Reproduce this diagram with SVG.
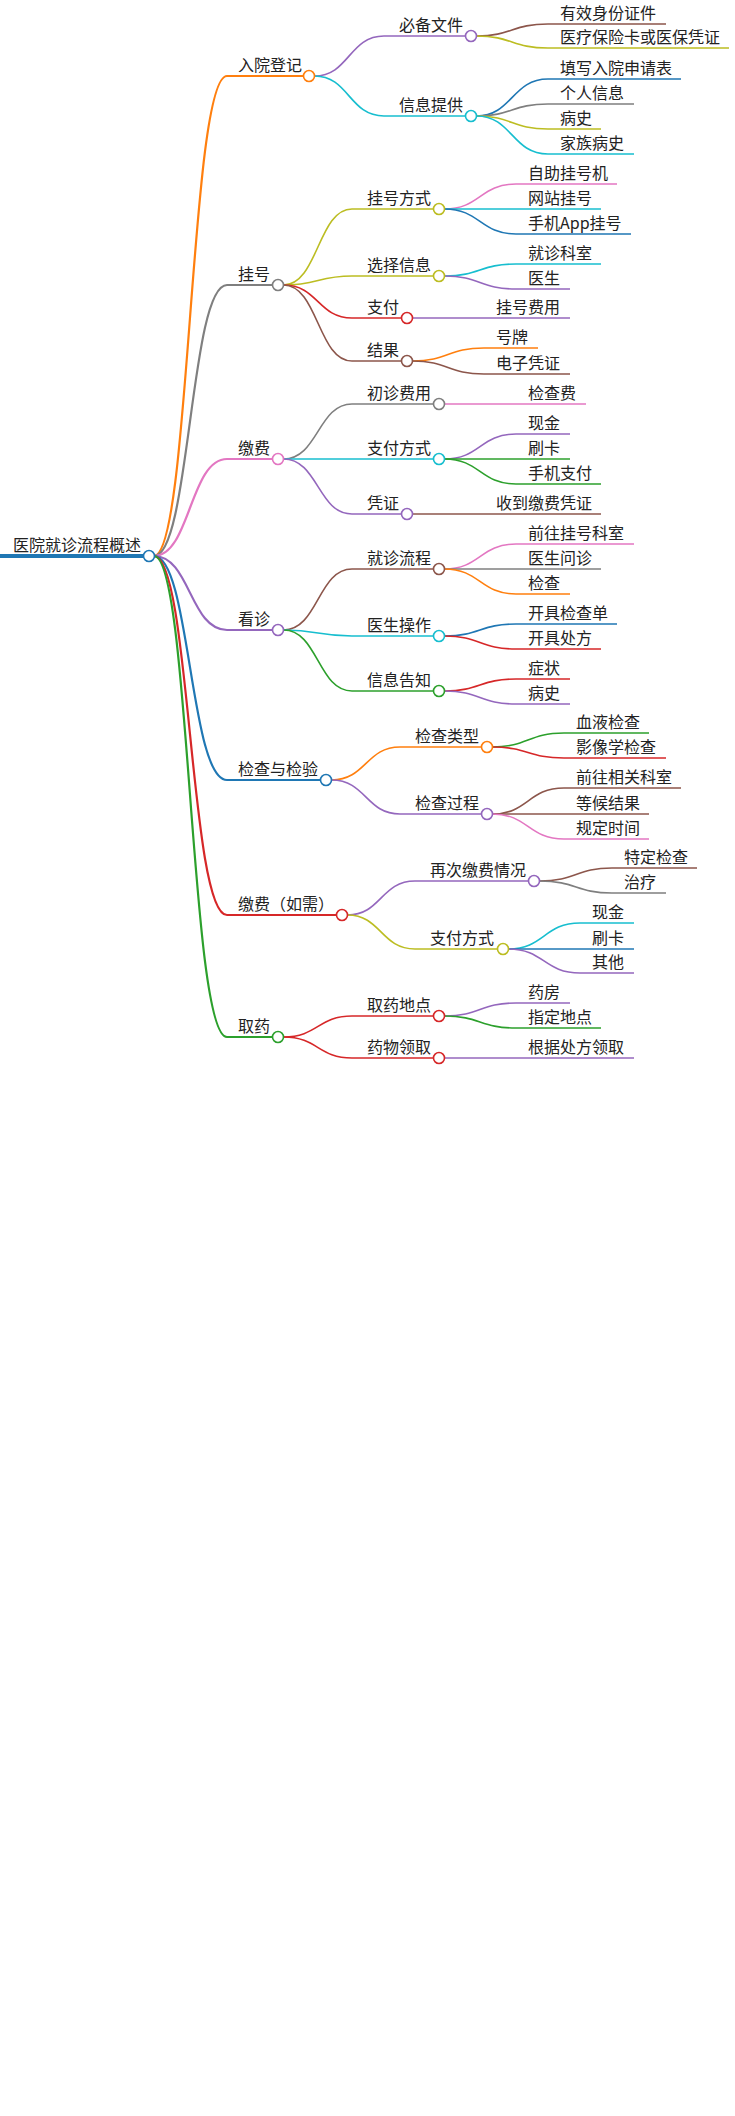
<svg xmlns="http://www.w3.org/2000/svg" width="735" height="2116" viewBox="0 0 735 2116">
<style>
text{font-family:"Noto Sans CJK SC","Liberation Sans",sans-serif;font-size:16px;fill:#222}
path{fill:none;stroke-width:1.6}
.l1{stroke-width:2.2}
circle{fill:#fff;stroke-width:1.6}
.or{stroke:#ff7f0e}.gy{stroke:#7f7f7f}.pk{stroke:#e377c2}.pu{stroke:#9467bd}.bl{stroke:#1f77b4}.rd{stroke:#d62728}.gr{stroke:#2ca02c}.ol{stroke:#bcbd22}.cy{stroke:#17becf}.br{stroke:#8c564b}
</style>
<rect width="735" height="2116" fill="#fff"/>
<g id="connectors">
<path class="bl" style="stroke-width:4" d="M0,556 H143.5"/>
<path class="l1 or" d="M154,556 C190,556 190,76 227,76 H303.5"/>
<path class="l1 gy" d="M154,556 C190,556 190,285 227,285 H272.5"/>
<path class="l1 pk" d="M154,556 C190,556 190,459 227,459 H272.5"/>
<path class="l1 pu" d="M154,556 C190,556 190,630 227,630 H272.5"/>
<path class="l1 bl" d="M154,556 C190,556 190,780 227,780 H320.5"/>
<path class="l1 rd" d="M154,556 C190,556 190,915 227,915 H336.5"/>
<path class="l1 gr" d="M154,556 C190,556 190,1037 227,1037 H272.5"/>
<path class="pu" d="M314.5,76 C349,76 349,36 384,36 H465.5"/>
<path class="cy" d="M314.5,76 C349,76 349,116 384,116 H465.5"/>
<path class="br" d="M476.5,36 C512,36 512,24 548,24 H666"/>
<path class="ol" d="M476.5,36 C512,36 512,48 548,48 H729"/>
<path class="bl" d="M476.5,116 C512,116 512,79 548,79 H681"/>
<path class="gy" d="M476.5,116 C512,116 512,104 548,104 H634"/>
<path class="ol" d="M476.5,116 C512,116 512,129 548,129 H601"/>
<path class="cy" d="M476.5,116 C512,116 512,154 548,154 H634"/>
<path class="ol" d="M283.5,285 C318,285 318,209 352,209 H433.5"/>
<path class="ol" d="M283.5,285 C318,285 318,276 352,276 H433.5"/>
<path class="rd" d="M283.5,285 C318,285 318,318 352,318 H401.5"/>
<path class="br" d="M283.5,285 C318,285 318,361 352,361 H401.5"/>
<path class="pk" d="M444.5,209 C480,209 480,184 516,184 H617"/>
<path class="cy" d="M444.5,209 C480,209 480,209 516,209 H601"/>
<path class="bl" d="M444.5,209 C480,209 480,234 516,234 H631"/>
<path class="cy" d="M444.5,276 C480,276 480,264 516,264 H601"/>
<path class="pu" d="M444.5,276 C480,276 480,289 516,289 H570"/>
<path class="pu" d="M412.5,318 H570"/>
<path class="or" d="M412.5,361 C448,361 448,348 484,348 H538"/>
<path class="br" d="M412.5,361 C448,361 448,374 484,374 H570"/>
<path class="gy" d="M283.5,459 C318,459 318,404 352,404 H433.5"/>
<path class="cy" d="M283.5,459 H433.5"/>
<path class="pu" d="M283.5,459 C318,459 318,514 352,514 H401.5"/>
<path class="pk" d="M444.5,404 H586"/>
<path class="pu" d="M444.5,459 C480,459 480,434 516,434 H570"/>
<path class="gr" d="M444.5,459 H570"/>
<path class="gr" d="M444.5,459 C480,459 480,484 516,484 H601"/>
<path class="br" d="M412.5,514 H601"/>
<path class="br" d="M283.5,630 C318,630 318,569 352,569 H433.5"/>
<path class="cy" d="M283.5,630 C318,630 318,636 352,636 H433.5"/>
<path class="gr" d="M283.5,630 C318,630 318,691 352,691 H433.5"/>
<path class="pk" d="M444.5,569 C480,569 480,544 516,544 H634"/>
<path class="gy" d="M444.5,569 H601"/>
<path class="or" d="M444.5,569 C480,569 480,594 516,594 H570"/>
<path class="bl" d="M444.5,636 C480,636 480,624 516,624 H617"/>
<path class="rd" d="M444.5,636 C480,636 480,649 516,649 H601"/>
<path class="rd" d="M444.5,691 C480,691 480,679 516,679 H570"/>
<path class="pu" d="M444.5,691 C480,691 480,704 516,704 H570"/>
<path class="or" d="M331.5,780 C366,780 366,747 400,747 H481.5"/>
<path class="pu" d="M331.5,780 C366,780 366,814 400,814 H481.5"/>
<path class="gr" d="M492.5,747 C528,747 528,733 564,733 H649"/>
<path class="rd" d="M492.5,747 C528,747 528,758 564,758 H666"/>
<path class="br" d="M492.5,814 C528,814 528,788 564,788 H681"/>
<path class="br" d="M492.5,814 H649"/>
<path class="pk" d="M492.5,814 C528,814 528,839 564,839 H649"/>
<path class="pu" d="M347.5,915 C381,915 381,881 415,881 H528.5"/>
<path class="ol" d="M347.5,915 C381,915 381,949 415,949 H497.5"/>
<path class="br" d="M539.5,881 C576,881 576,868 612,868 H697"/>
<path class="gy" d="M539.5,881 C576,881 576,893 612,893 H666"/>
<path class="cy" d="M508.5,949 C544,949 544,923 580,923 H634"/>
<path class="bl" d="M508.5,949 H634"/>
<path class="pu" d="M508.5,949 C544,949 544,973 580,973 H634"/>
<path class="rd" d="M283.5,1037 C318,1037 318,1016 352,1016 H433.5"/>
<path class="rd" d="M283.5,1037 C318,1037 318,1058 352,1058 H433.5"/>
<path class="pu" d="M444.5,1016 C480,1016 480,1003 516,1003 H570"/>
<path class="gr" d="M444.5,1016 C480,1016 480,1028 516,1028 H601"/>
<path class="pu" d="M444.5,1058 H634"/>
</g>
<g id="root"><circle class="bl" cx="149" cy="556" r="5.5"/><text x="13" y="551">医院就诊流程概述</text></g>
<g id="n1"><circle class="or" cx="309" cy="76" r="5.5"/><text x="238" y="71">入院登记</text></g>
<g id="n1a"><circle class="pu" cx="471" cy="36" r="5.5"/><text x="399" y="31">必备文件</text></g>
<g id="n1b"><circle class="cy" cx="471" cy="116" r="5.5"/><text x="399" y="111">信息提供</text></g>
<g id="n1l"><text x="560" y="19">有效身份证件</text><text x="560" y="43">医疗保险卡或医保凭证</text><text x="560" y="74">填写入院申请表</text><text x="560" y="99">个人信息</text><text x="560" y="124">病史</text><text x="560" y="149">家族病史</text></g>
<g id="n2"><circle class="gy" cx="278" cy="285" r="5.5"/><text x="238" y="280">挂号</text></g>
<g id="n2a"><circle class="ol" cx="439" cy="209" r="5.5"/><text x="367" y="204">挂号方式</text></g>
<g id="n2b"><circle class="ol" cx="439" cy="276" r="5.5"/><text x="367" y="271">选择信息</text></g>
<g id="n2c"><circle class="rd" cx="407" cy="318" r="5.5"/><text x="367" y="313">支付</text></g>
<g id="n2d"><circle class="br" cx="407" cy="361" r="5.5"/><text x="367" y="356">结果</text></g>
<g id="n2l"><text x="528" y="179">自助挂号机</text><text x="528" y="204">网站挂号</text><text x="528" y="229">手机App挂号</text><text x="528" y="259">就诊科室</text><text x="528" y="284">医生</text><text x="496" y="313">挂号费用</text><text x="496" y="343">号牌</text><text x="496" y="369">电子凭证</text></g>
<g id="n3"><circle class="pk" cx="278" cy="459" r="5.5"/><text x="238" y="454">缴费</text></g>
<g id="n3a"><circle class="gy" cx="439" cy="404" r="5.5"/><text x="367" y="399">初诊费用</text></g>
<g id="n3b"><circle class="cy" cx="439" cy="459" r="5.5"/><text x="367" y="454">支付方式</text></g>
<g id="n3c"><circle class="pu" cx="407" cy="514" r="5.5"/><text x="367" y="509">凭证</text></g>
<g id="n3l"><text x="528" y="399">检查费</text><text x="528" y="429">现金</text><text x="528" y="454">刷卡</text><text x="528" y="479">手机支付</text><text x="496" y="509">收到缴费凭证</text></g>
<g id="n4"><circle class="pu" cx="278" cy="630" r="5.5"/><text x="238" y="625">看诊</text></g>
<g id="n4a"><circle class="br" cx="439" cy="569" r="5.5"/><text x="367" y="564">就诊流程</text></g>
<g id="n4b"><circle class="cy" cx="439" cy="636" r="5.5"/><text x="367" y="631">医生操作</text></g>
<g id="n4c"><circle class="gr" cx="439" cy="691" r="5.5"/><text x="367" y="686">信息告知</text></g>
<g id="n4l"><text x="528" y="539">前往挂号科室</text><text x="528" y="564">医生问诊</text><text x="528" y="589">检查</text><text x="528" y="619">开具检查单</text><text x="528" y="644">开具处方</text><text x="528" y="674">症状</text><text x="528" y="699">病史</text></g>
<g id="n5"><circle class="bl" cx="326" cy="780" r="5.5"/><text x="238" y="775">检查与检验</text></g>
<g id="n5a"><circle class="or" cx="487" cy="747" r="5.5"/><text x="415" y="742">检查类型</text></g>
<g id="n5b"><circle class="pu" cx="487" cy="814" r="5.5"/><text x="415" y="809">检查过程</text></g>
<g id="n5l"><text x="576" y="728">血液检查</text><text x="576" y="753">影像学检查</text><text x="576" y="783">前往相关科室</text><text x="576" y="809">等候结果</text><text x="576" y="834">规定时间</text></g>
<g id="n6"><circle class="rd" cx="342" cy="915" r="5.5"/><text x="238" y="910">缴费（如需）</text></g>
<g id="n6a"><circle class="pu" cx="534" cy="881" r="5.5"/><text x="430" y="876">再次缴费情况</text></g>
<g id="n6b"><circle class="ol" cx="503" cy="949" r="5.5"/><text x="430" y="944">支付方式</text></g>
<g id="n6l"><text x="624" y="863">特定检查</text><text x="624" y="888">治疗</text><text x="592" y="918">现金</text><text x="592" y="944">刷卡</text><text x="592" y="968">其他</text></g>
<g id="n7"><circle class="gr" cx="278" cy="1037" r="5.5"/><text x="238" y="1032">取药</text></g>
<g id="n7a"><circle class="rd" cx="439" cy="1016" r="5.5"/><text x="367" y="1011">取药地点</text></g>
<g id="n7b"><circle class="rd" cx="439" cy="1058" r="5.5"/><text x="367" y="1053">药物领取</text></g>
<g id="n7l"><text x="528" y="998">药房</text><text x="528" y="1023">指定地点</text><text x="528" y="1053">根据处方领取</text></g>
</svg>
